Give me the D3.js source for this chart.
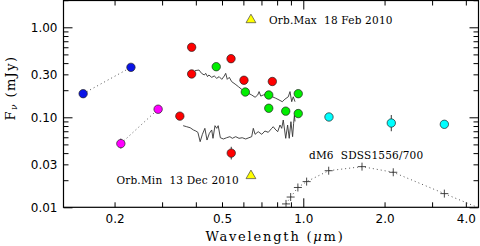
<!DOCTYPE html>
<html>
<head>
<meta charset="utf-8">
<script src="https://cdn.jsdelivr.net/npm/d3@7"></script>
<style>
  body { margin: 0; background: #fff; }
  svg { display: block; }
  .tick line { stroke: #000; stroke-width: 1; }
  .axis path.domain { display: none; }
</style>
</head>
<body>
<div id="chart-area"></div>
<script>
// ---- data (wavelength in micron, flux in mJy) ----
const galexWave = [0.153, 0.230]
const galexFlux = [0.183, 0.359]

const uvotWave = [0.211, 0.290]
const uvotFlux = [0.051, 0.123]
const uvotErr = [[0.045, 0.058], null]

const redWave = [0.386, 0.386, 0.540, 0.603, 0.768, 0.349, 0.541]
const redFlux = [0.600, 0.303, 0.448, 0.258, 0.250, 0.103, 0.040]
const redErr = [[0.56, 0.645], null, null, null, null, null, [0.034, 0.047]]

const greenWave = [0.476, 0.610, 0.745, 0.958, 0.745, 0.861, 0.958]
const greenFlux = [0.365, 0.191, 0.177, 0.183, 0.126, 0.117, 0.110]

const cyanWave = [1.245, 2.118, 3.33]
const cyanFlux = [0.1008, 0.0864, 0.0836]
const cyanErr = [null, [0.070, 0.106], null]

const orbWave = [0.640, 0.640]
const orbFlux = [1.21, 0.0224]
const orbLabels = ["Orb.Max  18 Feb 2010", "Orb.Min  13 Dec 2010"]

const dm6Wave = [0.863, 0.898, 0.955, 1.029, 1.242, 1.650, 2.154, 3.33, 4.6]
const dm6Flux = [0.0109, 0.0130, 0.0166, 0.0193, 0.0255, 0.0283, 0.0245, 0.0142, 0.0095]
const dm6Label = "dM6  SDSS1556/700"

// bright state spectrum
const specHighWave = [0.397, 0.411, 0.420, 0.430, 0.435, 0.442, 0.447, 0.458, 0.468, 0.478,
  0.488, 0.499, 0.510, 0.516, 0.523, 0.532, 0.543, 0.559, 0.575, 0.591,
  0.608, 0.626, 0.644, 0.663, 0.678, 0.686, 0.696, 0.711, 0.732, 0.746,
  0.768, 0.790, 0.813, 0.836, 0.855, 0.880, 0.893, 0.906, 0.918, 0.932]
const specHighFlux = [0.330, 0.335, 0.308, 0.295, 0.308, 0.283, 0.295, 0.278, 0.288, 0.271,
  0.283, 0.264, 0.288, 0.308, 0.264, 0.278, 0.249, 0.234, 0.219, 0.205,
  0.193, 0.185, 0.177, 0.167, 0.177, 0.193, 0.172, 0.177, 0.180, 0.172,
  0.169, 0.163, 0.156, 0.149, 0.159, 0.169, 0.193, 0.149, 0.169, 0.149]

// faint state spectrum
const specLowWave = [0.359, 0.370, 0.381, 0.392, 0.400, 0.407, 0.415, 0.423, 0.432, 0.440,
  0.449, 0.458, 0.463, 0.471, 0.478, 0.484, 0.493, 0.506, 0.520, 0.535,
  0.546, 0.562, 0.578, 0.594, 0.612, 0.629, 0.644, 0.653, 0.663, 0.681,
  0.702, 0.721, 0.742, 0.764, 0.774, 0.786, 0.804, 0.820, 0.832, 0.843,
  0.861, 0.875, 0.887, 0.900, 0.913, 0.921, 0.927, 0.932]
const specLowFlux = [0.0807, 0.0786, 0.0766, 0.0723, 0.0704, 0.0681, 0.0536, 0.0647, 0.0754, 0.0559,
  0.0664, 0.0723, 0.0584, 0.0807, 0.0754, 0.0807, 0.0593, 0.0574, 0.0593, 0.0609,
  0.0584, 0.0609, 0.0584, 0.0593, 0.0574, 0.0593, 0.0609, 0.0754, 0.0647, 0.0692,
  0.0647, 0.0704, 0.0681, 0.0754, 0.0786, 0.0741, 0.0692, 0.0821, 0.0754, 0.0933,
  0.0584, 0.0821, 0.0584, 0.0894, 0.0609, 0.0858, 0.105, 0.090]

// ticks
const xMinorTicks = [0.2, 0.3, 0.4, 0.5, 0.6, 0.7, 0.8, 0.9, 2, 3, 4]
const xMajorTicks = [1]
const xTickLabels = [0.2, 0.5, 1.0, 2.0, 4.0]
const yMinorTicks = [0.02, 0.03, 0.04, 0.05, 0.06, 0.07, 0.08, 0.09,
  0.2, 0.3, 0.4, 0.5, 0.6, 0.7, 0.8, 0.9, 2]
const yMajorTicks = [0.01, 0.1, 1]
const yTickLabels = [0.01, 0.03, 0.1, 0.3, 1]

// ---- layout ----
const W = 480, H = 246
const PLOT = { LEFT: 63.5, RIGHT: 478.5, TOP: 0.5, BOTTOM: 207.3 }
const SERIF = "'DejaVu Serif', serif"
const SANS = "'DejaVu Sans', sans-serif"

const svg = d3.select("#chart-area").append("svg")
  .attr("width", W)
  .attr("height", H)

const x = d3.scaleLog().domain([0.1294, 4.456]).range([PLOT.LEFT, PLOT.RIGHT])
const y = d3.scaleLog().domain([0.01, 1.985]).range([PLOT.BOTTOM, PLOT.TOP])

svg.append("clipPath").attr("id", "clip")
  .append("rect")
  .attr("x", PLOT.LEFT).attr("y", PLOT.TOP)
  .attr("width", PLOT.RIGHT - PLOT.LEFT).attr("height", PLOT.BOTTOM - PLOT.TOP)

const zip = (xs, ys) => xs.map((v, i) => ({ x: v, y: ys[i] }))

// axes: inward ticks on all four sides
function addTicks(axisFn, scale, values, size, transform) {
  svg.append("g")
    .attr("class", "axis")
    .attr("transform", transform)
    .call(axisFn(scale).tickValues(values).tickSize(-size).tickFormat(""))
}
addTicks(d3.axisBottom, x, xMinorTicks, 5, `translate(0,${PLOT.BOTTOM})`)
addTicks(d3.axisBottom, x, xMajorTicks, 9, `translate(0,${PLOT.BOTTOM})`)
addTicks(d3.axisTop, x, xMinorTicks, 5, `translate(0,${PLOT.TOP})`)
addTicks(d3.axisTop, x, xMajorTicks, 9, `translate(0,${PLOT.TOP})`)
addTicks(d3.axisLeft, y, yMinorTicks, 5, `translate(${PLOT.LEFT},0)`)
addTicks(d3.axisLeft, y, yMajorTicks, 9, `translate(${PLOT.LEFT},0)`)
addTicks(d3.axisRight, y, yMinorTicks, 5, `translate(${PLOT.RIGHT},0)`)
addTicks(d3.axisRight, y, yMajorTicks, 9, `translate(${PLOT.RIGHT},0)`)

// tick labels
svg.append("g")
  .attr("class", "axis")
  .attr("transform", `translate(0,${PLOT.BOTTOM})`)
  .call(d3.axisBottom(x).tickValues(xTickLabels).tickSize(0).tickFormat(d3.format(".1f")))
  .selectAll("text")
  .attr("y", 12).attr("dy", "0.35em")
  .attr("font-family", SANS).attr("font-size", 12).attr("fill", "#000")

svg.append("g")
  .attr("class", "axis")
  .attr("transform", `translate(${PLOT.LEFT},0)`)
  .call(d3.axisLeft(y).tickValues(yTickLabels).tickSize(0).tickPadding(6).tickFormat(d3.format(".2f")))
  .selectAll("text")
  .attr("font-family", SANS).attr("font-size", 12).attr("fill", "#000")

// frame
svg.append("rect")
  .attr("x", PLOT.LEFT).attr("y", PLOT.TOP)
  .attr("width", PLOT.RIGHT - PLOT.LEFT).attr("height", PLOT.BOTTOM - PLOT.TOP)
  .attr("fill", "none").attr("stroke", "#000").attr("stroke-width", 1.2)

// axis titles
const xTitle = svg.append("text")
  .attr("x", 275).attr("y", 236).attr("dy", "0.35em")
  .attr("text-anchor", "middle")
  .attr("font-family", SERIF).attr("font-size", 13)
  .attr("letter-spacing", 1.8)
xTitle.append("tspan").text("Wavelength (")
xTitle.append("tspan").attr("font-style", "italic").text("\u03bc")
xTitle.append("tspan").text("m)")

const yTitle = svg.append("text")
  .attr("transform", "translate(10,88) rotate(-90)")
  .attr("text-anchor", "middle")
  .attr("dy", "0.35em")
  .attr("font-family", SERIF).attr("font-size", 13)
  .attr("letter-spacing", 1.4)
yTitle.append("tspan").text("F")
yTitle.append("tspan").attr("font-size", 9).attr("font-style", "italic").attr("dy", "0.3em").text("\u03bd")
yTitle.append("tspan").attr("dy", "-0.2em").text(" (mJy)")

const plot = svg.append("g").attr("clip-path", "url(#clip)")

const line = d3.line().x(d => x(d.x)).y(d => y(d.y))

// dotted connectors
;[zip(galexWave, galexFlux), zip(uvotWave, uvotFlux), zip(dm6Wave, dm6Flux)].forEach(pts => {
  plot.append("path")
    .attr("d", line(pts))
    .attr("fill", "none")
    .attr("stroke", "#555")
    .attr("stroke-width", 1)
    .attr("stroke-dasharray", "1,3")
})

// spectra
;[zip(specHighWave, specHighFlux), zip(specLowWave, specLowFlux)].forEach(pts => {
  plot.append("path")
    .attr("d", line(pts))
    .attr("fill", "none")
    .attr("stroke", "#333")
    .attr("stroke-width", 0.9)
})

// dM6 crosses
plot.selectAll(".dm6").data(zip(dm6Wave, dm6Flux)).enter()
  .append("path")
  .attr("class", "dm6")
  .attr("transform", d => `translate(${x(d.x)},${y(d.y)})`)
  .attr("d", "M-4,0H4M0,-4V4")
  .attr("stroke", "#333").attr("stroke-width", 0.9)

// error bars
function errorBars(wave, errs) {
  wave.forEach((w, i) => {
    if (!errs[i]) return
    plot.append("line")
      .attr("x1", x(w)).attr("x2", x(w))
      .attr("y1", y(errs[i][0])).attr("y2", y(errs[i][1]))
      .attr("stroke", "#333").attr("stroke-width", 1)
  })
}
errorBars(uvotWave, uvotErr)
errorBars(redWave, redErr)
errorBars(cyanWave, cyanErr)

// photometry points
function dots(wave, flux, color) {
  plot.selectAll(null).data(zip(wave, flux)).enter()
    .append("circle")
    .attr("cx", d => x(d.x)).attr("cy", d => y(d.y))
    .attr("r", 4.2)
    .attr("fill", color)
    .attr("stroke", "#222").attr("stroke-width", 0.7)
}
dots(galexWave, galexFlux, "#0a14e6")
dots(uvotWave, uvotFlux, "#ff00ff")
dots(redWave, redFlux, "#ff0000")
dots(greenWave, greenFlux, "#00ee00")
dots(cyanWave, cyanFlux, "#00ffff")

// orbital phase markers + labels
const tri = d3.symbol(d3.symbolTriangle, 42)
orbWave.forEach((w, i) => {
  plot.append("path")
    .attr("d", tri())
    .attr("transform", `translate(${x(w)},${y(orbFlux[i])})`)
    .attr("fill", "#ffff00")
    .attr("stroke", "#444").attr("stroke-width", 0.7)
  svg.append("text")
    .attr("x", i === 0 ? x(w) + 18 : x(w) - 12)
    .attr("y", y(orbFlux[i]) + (i === 0 ? 0 : 5))
    .attr("dy", "0.35em")
    .attr("text-anchor", i === 0 ? "start" : "end")
    .attr("font-family", SERIF).attr("font-size", 10.5)
    .attr("letter-spacing", 0.2)
    .style("white-space", "pre")
    .text(orbLabels[i])
})

svg.append("text")
  .attr("x", x(1.05)).attr("y", y(0.038))
  .attr("dy", "0.35em")
  .attr("font-family", SERIF).attr("font-size", 10.5)
  .attr("letter-spacing", 0.2)
  .style("white-space", "pre")
  .text(dm6Label)
</script>
</body>
</html>
